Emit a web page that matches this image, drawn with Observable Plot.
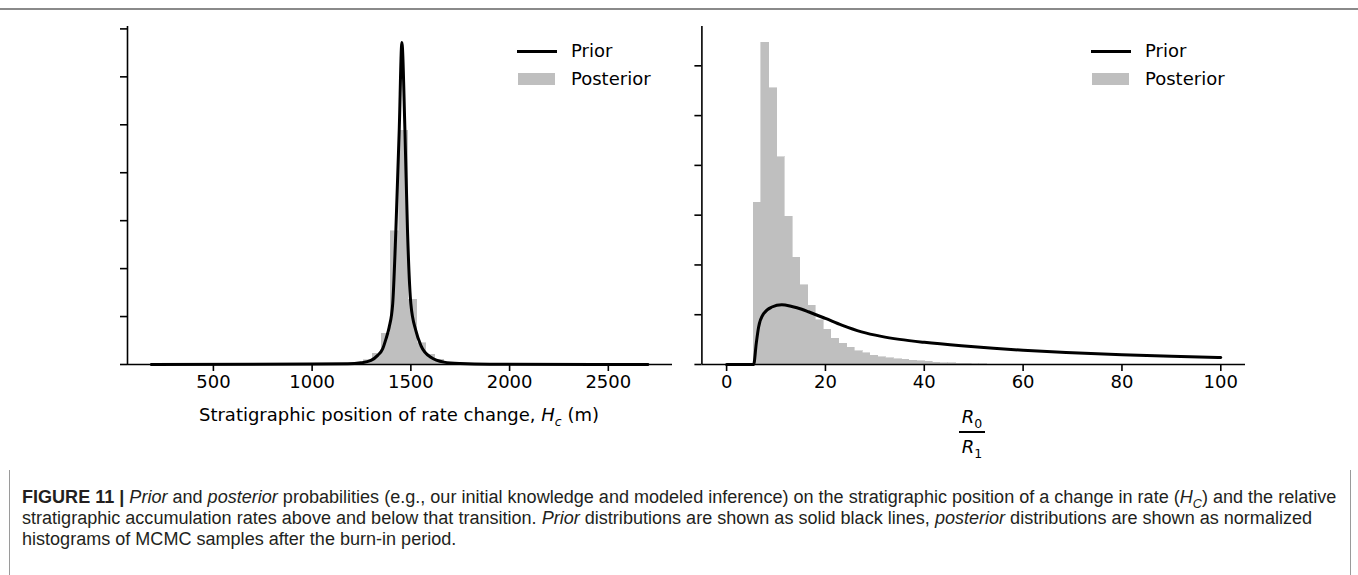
<!DOCTYPE html>
<html><head><meta charset="utf-8">
<script src="https://cdn.jsdelivr.net/npm/d3@7"></script>
<script src="https://cdn.jsdelivr.net/npm/@observablehq/plot@0.6"></script>
<style>
body{margin:0;background:#fff;}
#fig{position:relative;width:1358px;height:575px;overflow:hidden;font-family:"DejaVu Sans",sans-serif;background:#fff;}
.abs{position:absolute;}
.leg{position:absolute;font-size:18px;line-height:18px;color:#000;white-space:nowrap;}
.cap{position:absolute;left:22px;white-space:nowrap;font-family:"Liberation Sans Narrow","Liberation Sans",Arial,sans-serif;color:#231f20;font-size:15px;line-height:18px;}
.cap sub{font-size:0.7em;line-height:0;}
</style></head><body><div id="fig"></div><script>
// ---- data ----
const leftXTicks = [500, 1000, 1500, 2000, 2500];
const leftYTicks = [0, 0.002, 0.004, 0.006, 0.008, 0.010, 0.012, 0.014];
const leftPriorX = [185, 1000, 1180, 1247, 1298, 1332, 1357, 1374, 1390, 1408, 1424, 1441, 1454.5, 1470, 1483, 1500, 1525, 1551, 1601, 1668, 1750, 1900, 2700];
const leftPriorD = [0, 0.00002, 0.00003, 0.00007, 0.00017, 0.00038, 0.00065, 0.00107, 0.00155, 0.00253, 0.00558, 0.00975, 0.01343, 0.00975, 0.00558, 0.00253, 0.00142, 0.00079, 0.0003, 0.0001, 0.00004, 0.00001, 0];
const leftHistEdges = [1216, 1261, 1306, 1352, 1397, 1442, 1487, 1532, 1578, 1623, 1668, 1713];
const leftHistD = [0.00004, 0.000167, 0.000446, 0.00128, 0.00555, 0.00975, 0.0027, 0.00089, 0.0004, 0.0002, 0.00006];

const rightXTicks = [0, 20, 40, 60, 80, 100];
const rightYTicks = [0, 0.02, 0.04, 0.06, 0.08, 0.10, 0.12];
const rightPriorX = [0, 5.47, 6.0, 6.47, 7.48, 9.16, 11.17, 13.19, 15.2, 16.56, 20, 23.3, 27.3, 31.3, 35, 40, 47.5, 54, 60, 68.7, 80, 90, 100];
const rightPriorD = [0, 0, 0.0085, 0.015, 0.0204, 0.0231, 0.024, 0.0233, 0.0222, 0.0212, 0.0185, 0.0158, 0.0131, 0.0113, 0.0101, 0.0089, 0.0075, 0.0065, 0.0057, 0.0048, 0.0039, 0.0033, 0.0028];
const rightHistEdges = [5.47, 7.05, 8.62, 10.2, 11.77, 13.35, 14.92, 16.5, 18.07, 19.65, 21.22, 22.8, 24.37, 25.95, 27.52, 29.1, 30.67, 32.25, 33.82, 35.4, 36.97, 38.55, 40.12, 41.7, 43.27, 44.85, 46.42, 48.0, 49.57, 51.15, 52.72];
const rightHistD = [0.0649, 0.1293, 0.1109, 0.0832, 0.0593, 0.0429, 0.0318, 0.0237, 0.0177, 0.014, 0.0103, 0.0083, 0.0068, 0.0054, 0.0045, 0.0036, 0.0029, 0.0025, 0.0021, 0.0019, 0.0016, 0.0013, 0.0011, 0.0008, 0.0006, 0.0005, 0.0004, 0.0003, 0.0002, 0.00015];

const legendLabels = ["Prior", "Posterior"];

(function () {
// ---- build tables ----
const line = (xs, ds) => xs.map((x, i) => ({x, d: ds[i]}));
const hist = (edges, ds) => ds.map((d, i) => ({x0: edges[i], x1: edges[i + 1], d}));

const fig = document.getElementById("fig");
const HIST = "#bfbfbf";
const SW = 1.6;

function panel({w, h, ml, mr, mt, mb, xdom, ydom, xt, yt, prior, histo, curve}) {
  return Plot.plot({
    width: w, height: h,
    marginLeft: ml, marginRight: mr, marginTop: mt, marginBottom: mb,
    x: {domain: xdom},
    y: {domain: ydom},
    style: {fontFamily: "DejaVu Sans", fontSize: "18px", color: "#000", background: "transparent", overflow: "visible"},
    marks: [
      Plot.rectY(histo, {x1: "x0", x2: "x1", y: "d", fill: HIST, stroke: HIST, strokeWidth: 0.6, shapeRendering: "crispEdges"}),
      Plot.axisX({ticks: xt, tickSize: 7, tickPadding: 4, strokeWidth: SW, label: null, fontSize: 18, tickFormat: d => String(d)}),
      Plot.axisY({ticks: yt, tickSize: 7, tickFormat: () => "", strokeWidth: SW, label: null}),
      Plot.ruleX([xdom[0]], {strokeWidth: SW}),
      Plot.ruleY([0], {strokeWidth: SW}),
      Plot.line(prior, {x: "x", y: "d", stroke: "#000", strokeWidth: 3, curve})
    ]
  });
}

const pL = panel({w: 700, h: 400, ml: 127, mr: 28, mt: 26, mb: 36, xdom: [65, 2825], ydom: [0, 0.0141],
  xt: leftXTicks, yt: leftYTicks, prior: line(leftPriorX, leftPriorD), histo: hist(leftHistEdges, leftHistD), curve: "monotone-x"});
pL.style.position = "absolute"; pL.style.left = "0px"; pL.style.top = "0px";
fig.appendChild(pL);

const pR = panel({w: 679, h: 400, ml: 22.4, mr: 113, mt: 26, mb: 36, xdom: [-5, 105], ydom: [0, 0.1358],
  xt: rightXTicks, yt: rightYTicks, prior: line(rightPriorX, rightPriorD), histo: hist(rightHistEdges, rightHistD), curve: "monotone-x"});
pR.style.position = "absolute"; pR.style.left = "679px"; pR.style.top = "0px";
fig.appendChild(pR);

// ---- legends ----
function legend(x0) {
  const l = document.createElement("div");
  l.className = "abs"; l.style.cssText = `left:${x0}px;top:49.5px;width:40px;height:3px;background:#000;`;
  fig.appendChild(l);
  const p = document.createElement("div");
  p.className = "abs"; p.style.cssText = `left:${x0 + 1}px;top:73px;width:37px;height:12px;background:${HIST};`;
  fig.appendChild(p);
  legendLabels.forEach((t, i) => {
    const s = document.createElement("div");
    s.className = "leg"; s.textContent = t;
    s.style.left = (x0 + 54) + "px"; s.style.top = (42 + i * 28) + "px";
    fig.appendChild(s);
  });
}
legend(517);
legend(1091);

// ---- axis labels ----
const xl = document.createElement("div");
xl.className = "abs";
xl.style.cssText = "left:399px;top:404px;transform:translateX(-50%);font-size:18px;line-height:22px;white-space:nowrap;";
xl.innerHTML = 'Stratigraphic position of rate change, <i>H</i><sub style="font-size:12.5px;font-style:italic;line-height:0">c</sub> (m)';
fig.appendChild(xl);

const fr = document.createElement("div");
fr.className = "abs";
fr.style.cssText = "left:972px;top:405px;transform:translateX(-50%);font-size:18px;display:flex;flex-direction:column;align-items:center;";
fr.innerHTML = '<div style="line-height:24px;padding:0 1px"><i>R</i><sub style="font-size:12.5px;line-height:0">0</sub></div>' +
  '<div style="width:26px;height:2px;background:#000;margin:2px 0 3px 0"></div>' +
  '<div style="line-height:22px;padding:0 1px"><i>R</i><sub style="font-size:12.5px;line-height:0">1</sub></div>';
fig.appendChild(fr);

// ---- frame and caption ----
const topLine = document.createElement("div");
topLine.className = "abs"; topLine.style.cssText = "left:0;top:8px;width:1358px;height:1.5px;background:#8a8a8a;";
fig.appendChild(topLine);
const box = document.createElement("div");
box.className = "abs"; box.style.cssText = "left:9px;top:470px;width:1340px;height:120px;border-left:1px solid #9a9a9a;border-right:1px solid #9a9a9a;";
fig.appendChild(box);

const capLines = [
  '<b>FIGURE 11 |</b> <i>Prior</i> and <i>posterior</i> probabilities (e.g., our initial knowledge and modeled inference) on the stratigraphic position of a change in rate (<i>H<sub>C</sub></i>) and the relative',
  'stratigraphic accumulation rates above and below that transition. <i>Prior</i> distributions are shown as solid black lines, <i>posterior</i> distributions are shown as normalized',
  'histograms of MCMC samples after the burn-in period.'
];
const capEls = capLines.map((h, i) => {
  const d = document.createElement("div");
  d.className = "cap"; d.innerHTML = h;
  d.style.top = (490 + i * 21) + "px";
  fig.appendChild(d);
  return d;
});
const w0 = capEls[0].getBoundingClientRect().width;
const fs = Math.min(20, 15 * 1316 / w0);
capEls.forEach(d => { d.style.fontSize = fs + "px"; d.style.top = (parseFloat(d.style.top) - (fs - 15) / 2) + "px"; });
})();
</script></body></html>
